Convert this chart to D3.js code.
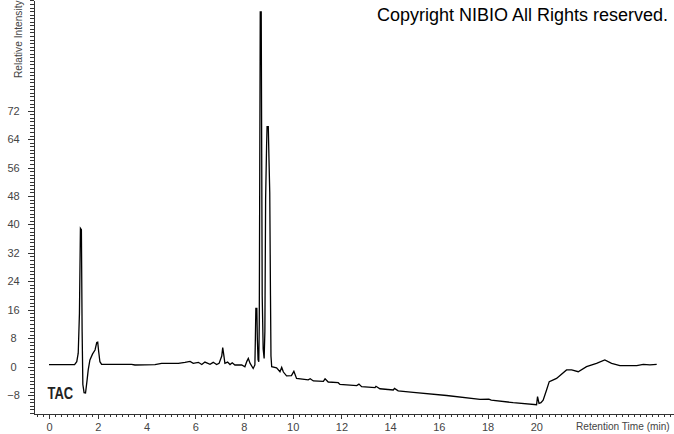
<!DOCTYPE html>
<html>
<head>
<meta charset="utf-8">
<script src="https://cdn.jsdelivr.net/npm/d3@7"></script>
<style>
  html, body { margin: 0; padding: 0; background: #fff; }
  svg { display: block; }
</style>
</head>
<body>
<svg id="chart" width="674" height="434"></svg>
<script>
// ---- data ----
const retentionTime = [
  0.00, 1.05, 1.14, 1.20, 1.25, 1.29, 1.33, 1.36, 1.39, 1.44, 1.50, 1.56, 1.61, 1.68, 1.79, 1.89, 1.96, 2.00, 2.04, 2.09,
  2.16, 3.39, 3.53, 4.35, 4.62, 5.31, 5.58, 5.79, 5.92, 6.13, 6.27, 6.40, 6.61, 6.74, 6.88, 6.98, 7.09, 7.13, 7.18, 7.22,
  7.33, 7.43, 7.52, 7.63, 7.91, 8.04, 8.12, 8.18, 8.25, 8.38, 8.45, 8.47, 8.49, 8.53, 8.55, 8.58, 8.61, 8.63, 8.65, 8.67,
  8.71, 8.73, 8.75, 8.79, 8.83, 8.86, 8.89, 8.93, 8.95, 9.00, 9.03, 9.06, 9.09, 9.11, 9.14, 9.34, 9.48, 9.55, 9.62, 9.75,
  9.95, 10.05, 10.16, 10.64, 10.72, 10.85, 11.26, 11.33, 11.46, 11.87, 11.94, 12.63, 12.72, 12.83, 13.38, 13.42, 13.58, 14.13, 14.18, 14.33,
  14.95, 16.32, 17.69, 18.05, 18.15, 19.05, 20.01, 20.05, 20.11, 20.19, 20.28, 20.42, 20.53, 20.63, 20.83, 21.24, 21.45, 21.72, 22.06, 22.47,
  22.81, 23.09, 23.43, 24.12, 24.39, 24.66, 24.94
];
const relativeIntensity = [
  0.6, 0.6, 1.4, 3.8, 15, 38.9, 38.5, 10, -5, -7.3, -7.4, -4, -0.9, 1.9, 3.6, 4.7, 6.8, 6.9, 4.2, 1.4,
  0.67, 0.67, 0.48, 0.6, 0.94, 0.94, 1.23, 1.5, 0.94, 1.23, 0.6, 1.3, 0.67, 1.23, 0.6, 0.94, 3, 5.4, 3, 0.94,
  1.3, 0.6, 1.1, 0.48, 0.48, 0, 1.5, 2.35, 1, -0.5, 0.5, 8, 16.4, 16.4, 8, 2, 1.4, 12, 55, 99.8,
  99.8, 60, 20, 5, 2.3, 10, 47, 62, 67.5, 67.5, 58, 49, 20, 3, 0, -0.3, -1.4, -0.2, -1.5, -2.6,
  -2.5, -1.3, -3.3, -3.7, -3.4, -4.0, -4.1, -3.4, -4.3, -4.5, -5.0, -5.3, -4.9, -5.6, -5.9, -5.5, -6.2, -6.55, -6.1, -6.8,
  -7.2, -8.1, -9.2, -9.1, -9.4, -10.1, -10.7, -8.4, -10.3, -10.1, -9.4, -6.55, -4.2, -3.9, -3.3, -0.9, -0.9, -1.4, 0, 0.94,
  1.9, 0.94, 0.3, 0.3, 0.67, 0.5, 0.67
];
const xTickValues = [0, 2, 4, 6, 8, 10, 12, 14, 16, 18, 20];
const yTickValues = [-8, 0, 8, 16, 24, 32, 40, 48, 56, 64, 72];
const xDomain = [-0.615, 25.65];
const yDomain = [-13.3, 103.12];
const copyrightText = "Copyright NIBIO All Rights reserved.";
const traceLabel = "TAC";
const xAxisTitle = "Retention Time (min)";
const yAxisTitle = "Relative Intensity";

// ---- drawing ----
const svg = d3.select("#chart");
const axisX0 = 34, axisY0 = 414;
const x = d3.scaleLinear().domain(xDomain).range([axisX0, 674]);
const y = d3.scaleLinear().domain(yDomain).range([axisY0, 0]);

const font = "'Liberation Sans', Arial, Helvetica, sans-serif";
const axisColor = "#333";
const textColor = "#444";

// x axis minor ticks
const gxMinor = svg.append("g").attr("transform", `translate(0,${axisY0})`)
  .call(d3.axisBottom(x).tickValues(d3.range(-0.5, 25.6, 0.25)).tickSize(3).tickSizeOuter(0).tickFormat(""));
// x axis major ticks
const gx = svg.append("g").attr("transform", `translate(0,${axisY0})`)
  .call(d3.axisBottom(x).tickValues(xTickValues).tickSize(5).tickSizeOuter(0).tickFormat(d3.format("d")));

// y axis minor ticks
const gyMinor = svg.append("g").attr("transform", `translate(${axisX0},0)`)
  .call(d3.axisLeft(y).tickValues(d3.range(-13, 104, 1)).tickSize(4).tickSizeOuter(0).tickFormat(""));
// y axis major
const gy = svg.append("g").attr("transform", `translate(${axisX0},0)`)
  .call(d3.axisLeft(y).tickValues(yTickValues).tickSize(6).tickSizeOuter(0).tickFormat(d3.format("d")));

[gxMinor, gx, gyMinor, gy].forEach(g => {
  g.selectAll("path.domain").attr("stroke", axisColor).attr("stroke-width", 1).attr("shape-rendering", "crispEdges");
  g.selectAll(".tick line").attr("stroke", axisColor).attr("shape-rendering", "crispEdges");
});
gx.selectAll("text").attr("y", 9).attr("dy", "0.71em")
  .attr("font-family", font).attr("font-size", 11).attr("fill", textColor);
gy.selectAll("text").attr("x", 13.5 - axisX0).attr("text-anchor", "middle")
  .attr("font-family", font).attr("font-size", 11).attr("fill", textColor);
svg.selectAll(".tick text").attr("font-family", font);

// trace
const points = retentionTime.map((t, i) => [t, relativeIntensity[i]]);
const line = d3.line().x(d => x(d[0])).y(d => y(d[1]));
svg.append("path")
  .datum(points)
  .attr("d", line)
  .attr("fill", "none")
  .attr("stroke", "#000")
  .attr("stroke-width", 1.3)
  .attr("stroke-linejoin", "miter");

// axis titles
svg.append("text")
  .attr("transform", "translate(22,78) rotate(-90)")
  .attr("font-family", font).attr("font-size", 10.2).attr("fill", textColor)
  .text(yAxisTitle);

svg.append("text")
  .attr("x", 576).attr("y", 430)
  .attr("font-family", font).attr("font-size", 10.1).attr("fill", textColor)
  .text(xAxisTitle);

// trace label
svg.append("text")
  .attr("x", 47.5).attr("y", 399)
  .attr("font-family", font).attr("font-size", 16).attr("font-weight", "bold").attr("fill", "#222")
  .attr("textLength", 25.7).attr("lengthAdjust", "spacingAndGlyphs")
  .text(traceLabel);

// copyright
svg.append("text")
  .attr("x", 377).attr("y", 20.7)
  .attr("font-family", font).attr("font-size", 18).attr("fill", "#000")
  .text(copyrightText);
</script>
</body>
</html>
